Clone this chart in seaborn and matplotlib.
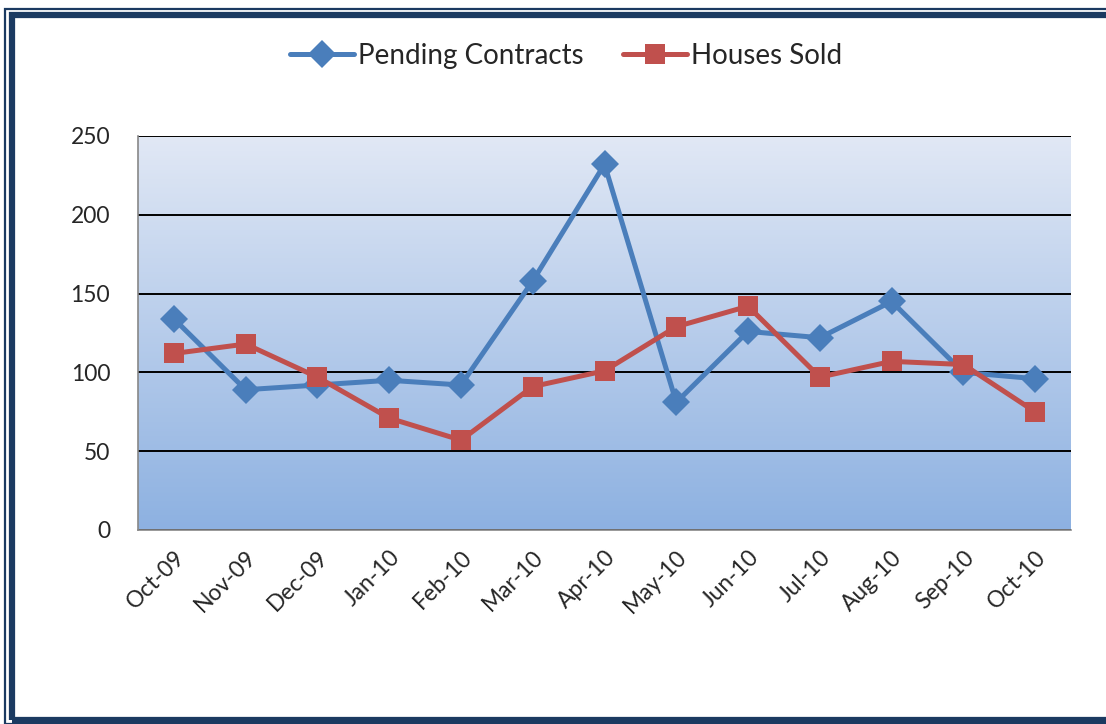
import numpy as np
import pandas as pd
import matplotlib
matplotlib.use("Agg")
import matplotlib.pyplot as plt
import seaborn as sns
from matplotlib.patches import Rectangle
from matplotlib.lines import Line2D

months = ["Oct-09", "Nov-09", "Dec-09", "Jan-10", "Feb-10", "Mar-10", "Apr-10",
          "May-10", "Jun-10", "Jul-10", "Aug-10", "Sep-10", "Oct-10"]
pending = [134, 89, 92, 95, 92, 158, 232, 81, 126, 122, 145, 100, 96]
sold = [112, 118, 97, 71, 57, 91, 101, 129, 142, 97, 107, 105, 75]
y_ticks = [0, 50, 100, 150, 200, 250]

BLUE = "#4A7EBB"
RED = "#C0504D"
NAVY = "#1B3A61"

sns.set_style("white")
plt.rcParams['font.family'] = ['Lato', 'DejaVu Sans']

fig = plt.figure(figsize=(11.06, 7.24), dpi=100)
ax = fig.add_axes([138/1106, 1 - 530/724, (1071-138)/1106, (530-136)/724])

# gradient background
grad = np.linspace(0, 1, 256).reshape(-1, 1)
top = np.array([0xE1, 0xE8, 0xF5]) / 255
bot = np.array([0x8D, 0xB1, 0xE1]) / 255
img = top[None, None, :] * (1 - grad[:, :, None]) + bot[None, None, :] * grad[:, :, None]
ax.imshow(img, extent=[0, 1, 0, 1], transform=ax.transAxes, aspect="auto", zorder=0)

df = pd.DataFrame({
    "x": list(range(len(months))) * 2,
    "value": pending + sold,
    "series": ["Pending Contracts"] * len(months) + ["Houses Sold"] * len(months),
})
sns.lineplot(data=df, x="x", y="value", hue="series", style="series",
             palette={"Pending Contracts": BLUE, "Houses Sold": RED},
             markers={"Pending Contracts": "D", "Houses Sold": "s"},
             dashes=False, linewidth=3.6, markersize=14, markeredgewidth=0,
             ax=ax, legend=False, zorder=3)

ax.set_xlim(-0.5, len(months) - 0.5)
ax.set_ylim(0, 250)
ax.set_yticks(y_ticks)
ax.set_yticklabels([str(v) for v in y_ticks], fontsize=16.5)
ax.yaxis.grid(True, color="black", linewidth=1.4, zorder=1)
ax.set_axisbelow(True)

ax.set_xticks(np.arange(-0.5, len(months), 1.0))
ax.set_xticklabels([])
ax.set_xticks(np.arange(len(months)), minor=True)
ax.set_xticklabels(months, minor=True, rotation=45, ha="right", rotation_mode="anchor", fontsize=16.5)
ax.tick_params(axis="x", which="major", direction="out", length=7, color="#888888", width=1.2)
ax.tick_params(axis="x", which="minor", length=0, pad=12)
ax.tick_params(axis="y", direction="out", length=6, color="#888888", width=1.2, pad=14)
ax.set_xlabel("")
ax.set_ylabel("")
for s in ["top", "right"]:
    ax.spines[s].set_visible(False)
for s in ["left", "bottom"]:
    ax.spines[s].set_color("#888888")
    ax.spines[s].set_linewidth(1.2)

handles = [
    Line2D([0], [0], color=BLUE, lw=3.6, marker="D", markersize=14, markeredgewidth=0),
    Line2D([0], [0], color=RED, lw=3.6, marker="s", markersize=14, markeredgewidth=0),
]
fig.legend(handles, ["Pending Contracts", "Houses Sold"], loc="center",
           bbox_to_anchor=(566/1106, 1 - 56/724), ncol=2, frameon=False,
           fontsize=20, handlelength=2.3, columnspacing=1.4, handletextpad=0.15)

# double navy border
fig.patches.append(Rectangle((5/1106, 0), 1.2, 1 - 9/724, transform=fig.transFigure,
                             fill=False, edgecolor=NAVY, linewidth=1.6))
fig.patches.append(Rectangle((12/1106, 4/724), 1.2, 1 - 19/724, transform=fig.transFigure,
                             fill=False, edgecolor=NAVY, linewidth=4.5))

fig.savefig("out.png", dpi=100)
